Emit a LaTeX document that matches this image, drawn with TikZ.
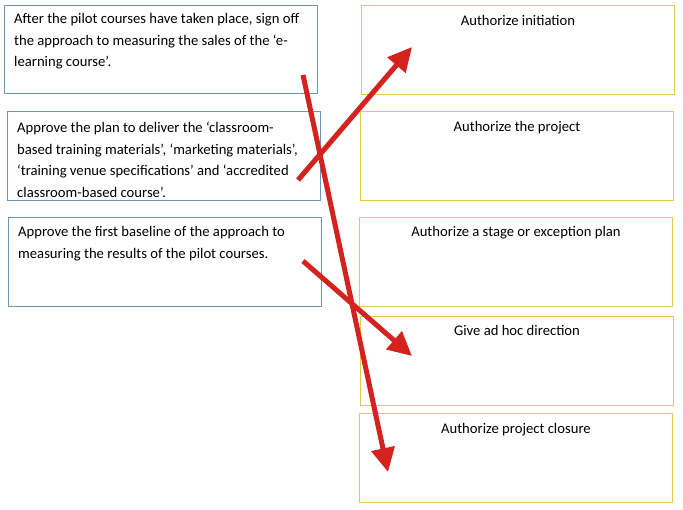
\documentclass[tikz,border=0pt]{standalone}
\usepackage{fontspec}
\setmainfont{Carlito}
\usetikzlibrary{calc}
\usetikzlibrary{positioning}
\usetikzlibrary{arrows.meta}
\definecolor[named]{BoxBlue}{RGB}{108,152,188}
\definecolor[named]{BoxGold}{RGB}{232,200,72}
\definecolor[named]{ArrowRed}{RGB}{212,34,30}
\newcommand{\bodyfont}{\fontsize{14.67}{21.8}\selectfont}
\tikzset{
  taskbox/.style={draw=BoxBlue,line width=0.9pt,anchor=north west,inner sep=0pt,
    minimum width=313pt,minimum height=88pt},
  rolebox/.style={draw=BoxGold,line width=0.9pt,anchor=north west,inner sep=0pt,
    minimum width=313pt,minimum height=89pt},
  tasktext/.style={anchor=north west,align=left,inner sep=0pt,font=\bodyfont},
  roletext/.style={anchor=base,inner sep=0pt,font=\bodyfont},
  pointer/.style={draw=ArrowRed,line width=5pt,
    -{Triangle[length=24pt,width=23pt]},
    preaction={draw=black!22,transform canvas={shift={(1.5pt,-2pt)}}}}
}

\begin{document}
\begin{tikzpicture}[x=1pt,y=-1pt]
  \path[use as bounding box] (0,0) rectangle (683,510);

  % tasks {{{
  \node[taskbox] (L1) at (4,5) {};
  \node[taskbox,minimum height=89pt] (L2) at (7,111) {};
  \node[taskbox,minimum height=89pt] (L3) at (8,217) {};

  \node[tasktext] (T1) at ($(L1.north west)+(10,8)$)
    {After the pilot courses have taken place, sign off\\
     the approach to measuring the sales of the ‘e-\\
     learning course’.};
  \node[tasktext] (T2) at ($(L2.north west)+(10,10.5)$)
    {Approve the plan to deliver the ‘classroom-\\
     based training materials’, ‘marketing materials’,\\
     ‘training venue specifications’ and ‘accredited\\
     classroom-based course’.};
  \node[tasktext] (T3) at ($(L3.north west)+(10,9)$)
    {Approve the first baseline of the approach to\\
     measuring the results of the pilot courses.};
  % }}}

  % roles {{{
  \node[rolebox] (R1) at (361,5) {};
  \node[rolebox] (R2) at (360,111) {};
  \node[rolebox] (R3) at (359,217) {};
  \node[rolebox] (R4) at (360,316) {};
  \node[rolebox] (R5) at (359,413) {};

  \node[roletext] (A1) at ($(R1.north)+(0,21)$) {Authorize initiation};
  \node[roletext] (A2) at ($(R2.north)+(0,21)$) {Authorize the project};
  \node[roletext] (A3) at ($(R3.north)+(0,20)$) {Authorize a stage or exception plan};
  \node[roletext] (A4) at ($(R4.north)+(0,20)$) {Give ad hoc direction};
  \node[roletext] (A5) at ($(R5.north)+(0,21)$) {Authorize project closure};
  % }}}

  % matches {{{
  \coordinate (from1) at (303,75);
  \coordinate (from2) at (298,180);
  \coordinate (from3) at (303,261);
  \coordinate (to1) at (412,47);
  \coordinate (to4) at (412,356);
  \coordinate (to5) at (388,472);

  \draw[pointer] (from2) -- (to1);
  \draw[pointer] (from3) -- (to4);
  \draw[pointer] (from1) -- (to5);
  % }}}
\end{tikzpicture}
\end{document}
